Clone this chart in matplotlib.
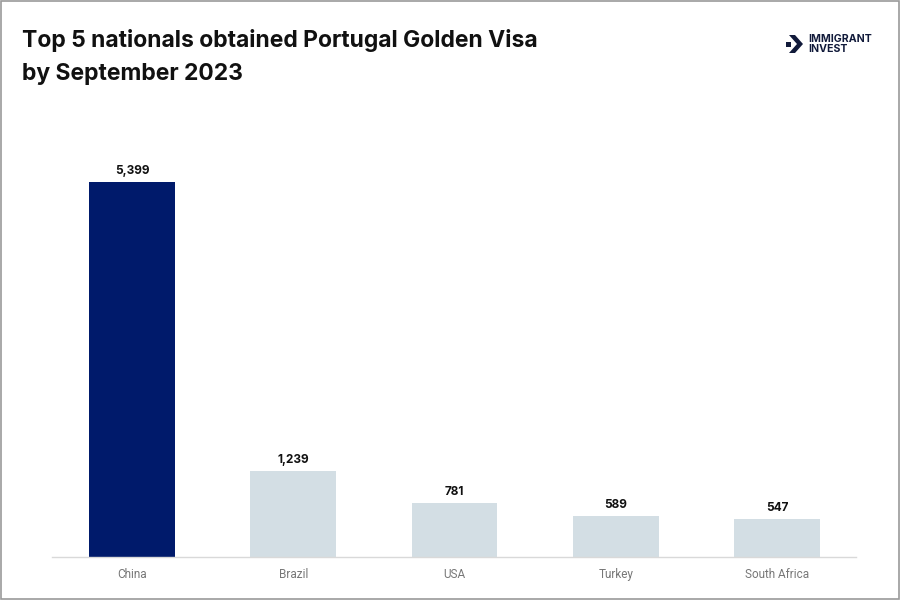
import matplotlib.pyplot as plt
from matplotlib.patches import Polygon, Rectangle

countries = ["China", "Brazil", "USA", "Turkey", "South Africa"]
visas = [5399, 1239, 781, 589, 547]
bar_colors = ["#001a6b", "#d3dee4", "#d3dee4", "#d3dee4", "#d3dee4"]

fig = plt.figure(figsize=(9, 6), dpi=100)
fig.patch.set_facecolor("white")

# gray frame around the whole picture
fig.patches.append(Rectangle((0.001, 0.001), 0.998, 0.997, transform=fig.transFigure,
                             fill=False, edgecolor="#9a9a9a", linewidth=1.2))

ax = fig.add_axes([52 / 900, 43 / 600, 804 / 900, 417 / 600])
x = list(range(len(countries)))
bars = ax.bar(x, visas, width=0.533, color=bar_colors, zorder=2)

for xi, v in zip(x, visas):
    ax.text(xi, v + 70, f"{v:,}", ha="center", va="bottom", fontsize=8.5,
            fontweight="bold", family="Inter", color="#111111")

ax.set_xlim(-0.496, 4.49)
ax.set_ylim(0, 6000)
ax.set_xticks(x)
ax.set_xticklabels(countries, fontsize=8.5, family="Roboto", color="#777777")
ax.tick_params(axis="x", length=0, pad=8)
ax.set_yticks([])
for s in ["top", "right", "left"]:
    ax.spines[s].set_visible(False)
ax.spines["bottom"].set_color("#d9d9d9")
ax.spines["bottom"].set_linewidth(1)

# title
fig.text(22 / 900, 1 - 40 / 600, "Top 5 nationals obtained Portugal Golden Visa",
         fontsize=16.5, fontweight="bold", family="Inter", color="#111111", va="center")
fig.text(22 / 900, 1 - 74 / 600, "by September 2023",
         fontsize=16.5, fontweight="bold", family="Inter", color="#111111", va="center")

# logo
navy = "#111a3a"
chev = [(789, 35), (795, 35), (803, 44), (795, 53), (789, 53), (797, 44)]
fig.patches.append(Polygon([(px / 900, 1 - py / 600) for px, py in chev], closed=True,
                           transform=fig.transFigure, facecolor=navy, edgecolor="none"))
fig.patches.append(Rectangle((786 / 900, 1 - 47 / 600), 5 / 900, 5 / 600,
                             transform=fig.transFigure, facecolor=navy, edgecolor="none"))
fig.text(808 / 900, 1 - 39 / 600, "IMMIGRANT", fontsize=7.6, fontweight="bold",
         family="Inter", color=navy, va="center")
fig.text(808 / 900, 1 - 49.5 / 600, "INVEST", fontsize=7.6, fontweight="bold",
         family="Inter", color=navy, va="center")

fig.savefig("out.png", dpi=100)
